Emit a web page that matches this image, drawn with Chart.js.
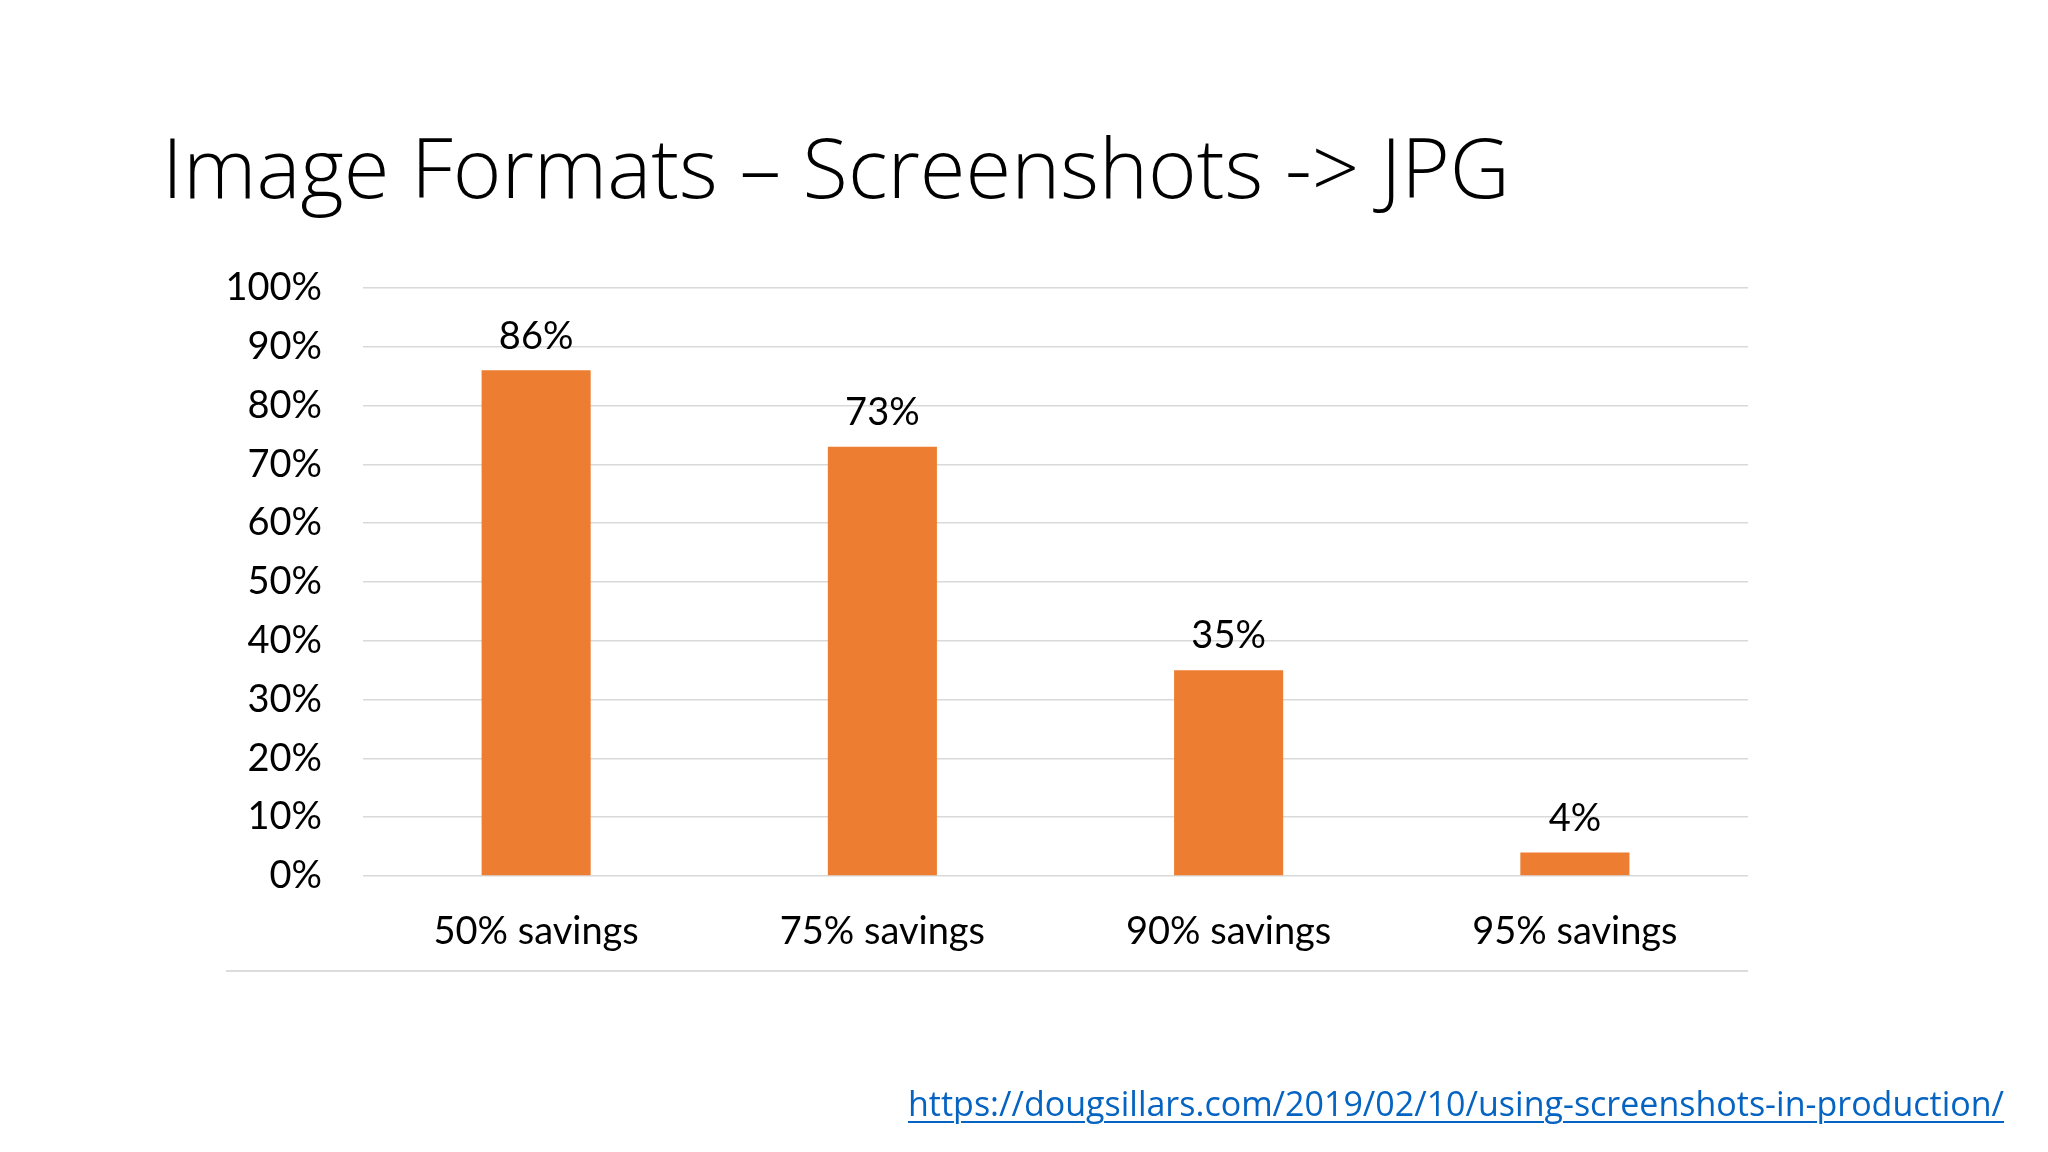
<!DOCTYPE html>
<html>
<head>
<meta charset="utf-8">
<script src="https://cdn.jsdelivr.net/npm/chart.js@4.4.1/dist/chart.umd.min.js"></script>
<style>
  html, body { margin:0; padding:0; background:#fff; width:2048px; height:1152px; overflow:hidden; }
  .txt { position:absolute; white-space:nowrap; transform-origin:0 0; line-height:1; margin:0; }
  #title { font-family:"Open Sans", "Noto Sans", sans-serif; font-weight:300; font-size:83px; color:#000; }
  #link { font-family:"Open Sans", "Noto Sans", sans-serif; font-weight:400; font-size:34px; color:#0563C1; text-decoration:underline; text-decoration-thickness:2px; text-underline-offset:5px; }
  #chart { position:absolute; left:0; top:0; }
  #frameLine { position:absolute; left:226px; top:970px; width:1522px; height:2px; background:#dcdcdc; }
</style>
</head>
<body>
<div id="title" class="txt"><span class="t">Image Formats – Screenshots -&gt; JPG</span><span class="b" style="display:inline-block;width:0;height:0;vertical-align:baseline"></span></div>
<canvas id="chart" width="2048" height="1152"></canvas>
<div id="frameLine"></div>
<div id="link" class="txt"><span class="t">https://dougsillars.com/2019/02/10/using-screenshots-in-production/</span><span class="b" style="display:inline-block;width:0;height:0;vertical-align:baseline"></span></div>
<script>
// ---- data ----
const categories = ['50% savings', '75% savings', '90% savings', '95% savings'];
const savingsValues = [86, 73, 35, 4];
const yTickValues = [0, 10, 20, 30, 40, 50, 60, 70, 80, 90, 100];
const yTickLabels = ['0%', '10%', '20%', '30%', '40%', '50%', '60%', '70%', '80%', '90%', '100%'];

// ---- place HTML text by left edge, baseline and width ----
function placeText(id, left, baseline, width) {
  const el = document.getElementById(id);
  const t = el.querySelector('.t');
  const b = el.querySelector('.b');
  el.style.left = '0px'; el.style.top = '0px'; el.style.transform = 'none';
  const w = t.getBoundingClientRect().width;
  const baseOff = b.offsetTop;
  const sx = width / w;
  el.style.left = left + 'px';
  el.style.top = (baseline - baseOff) + 'px';
  el.style.transform = 'scaleX(' + sx + ')';
}
placeText('title', 162, 198, 1348);
placeText('link', 908, 1116, 1096);

// ---- value labels plugin ----
const valueLabels = {
  id: 'valueLabels',
  afterDatasetsDraw(chart) {
    const ctx = chart.ctx;
    const meta = chart.getDatasetMeta(0);
    ctx.save();
    ctx.font = '38px Lato';
    ctx.fillStyle = '#000';
    ctx.textAlign = 'center';
    ctx.textBaseline = 'middle';
    meta.data.forEach((bar, i) => {
      ctx.fillText(savingsValues[i] + '%', bar.x, bar.y - 34);
    });
    ctx.restore();
  }
};

new Chart(document.getElementById('chart'), {
  type: 'bar',
  data: {
    labels: categories,
    datasets: [{
      data: savingsValues,
      backgroundColor: '#ED7D31',
      borderWidth: 0,
      barPercentage: 1.0,
      categoryPercentage: 0.315
    }]
  },
  plugins: [valueLabels],
  options: {
    responsive: false,
    animation: false,
    devicePixelRatio: 1,
    layout: { padding: { left: 150, top: 288, right: 300, bottom: 176 } },
    plugins: { legend: { display: false }, tooltip: { enabled: false }, title: { display: false } },
    scales: {
      x: {
        grid: { display: false },
        border: { display: false },
        ticks: { font: { family: 'Lato', size: 38 }, color: '#000', padding: 25 },
        afterFit(s) { s.height = 100; }
      },
      y: {
        min: 0, max: 100,
        border: { display: false },
        grid: { color: '#d9d9d9', lineWidth: 1.5, drawTicks: false },
        afterBuildTicks(s) { s.ticks = yTickValues.map(v => ({ value: v })); },
        ticks: {
          font: { family: 'Lato', size: 38 }, color: '#000', padding: 41,
          callback(v) { return yTickLabels[yTickValues.indexOf(v)]; }
        },
        afterFit(s) { s.width = 213; }
      }
    }
  }
});
</script>
</body>
</html>
